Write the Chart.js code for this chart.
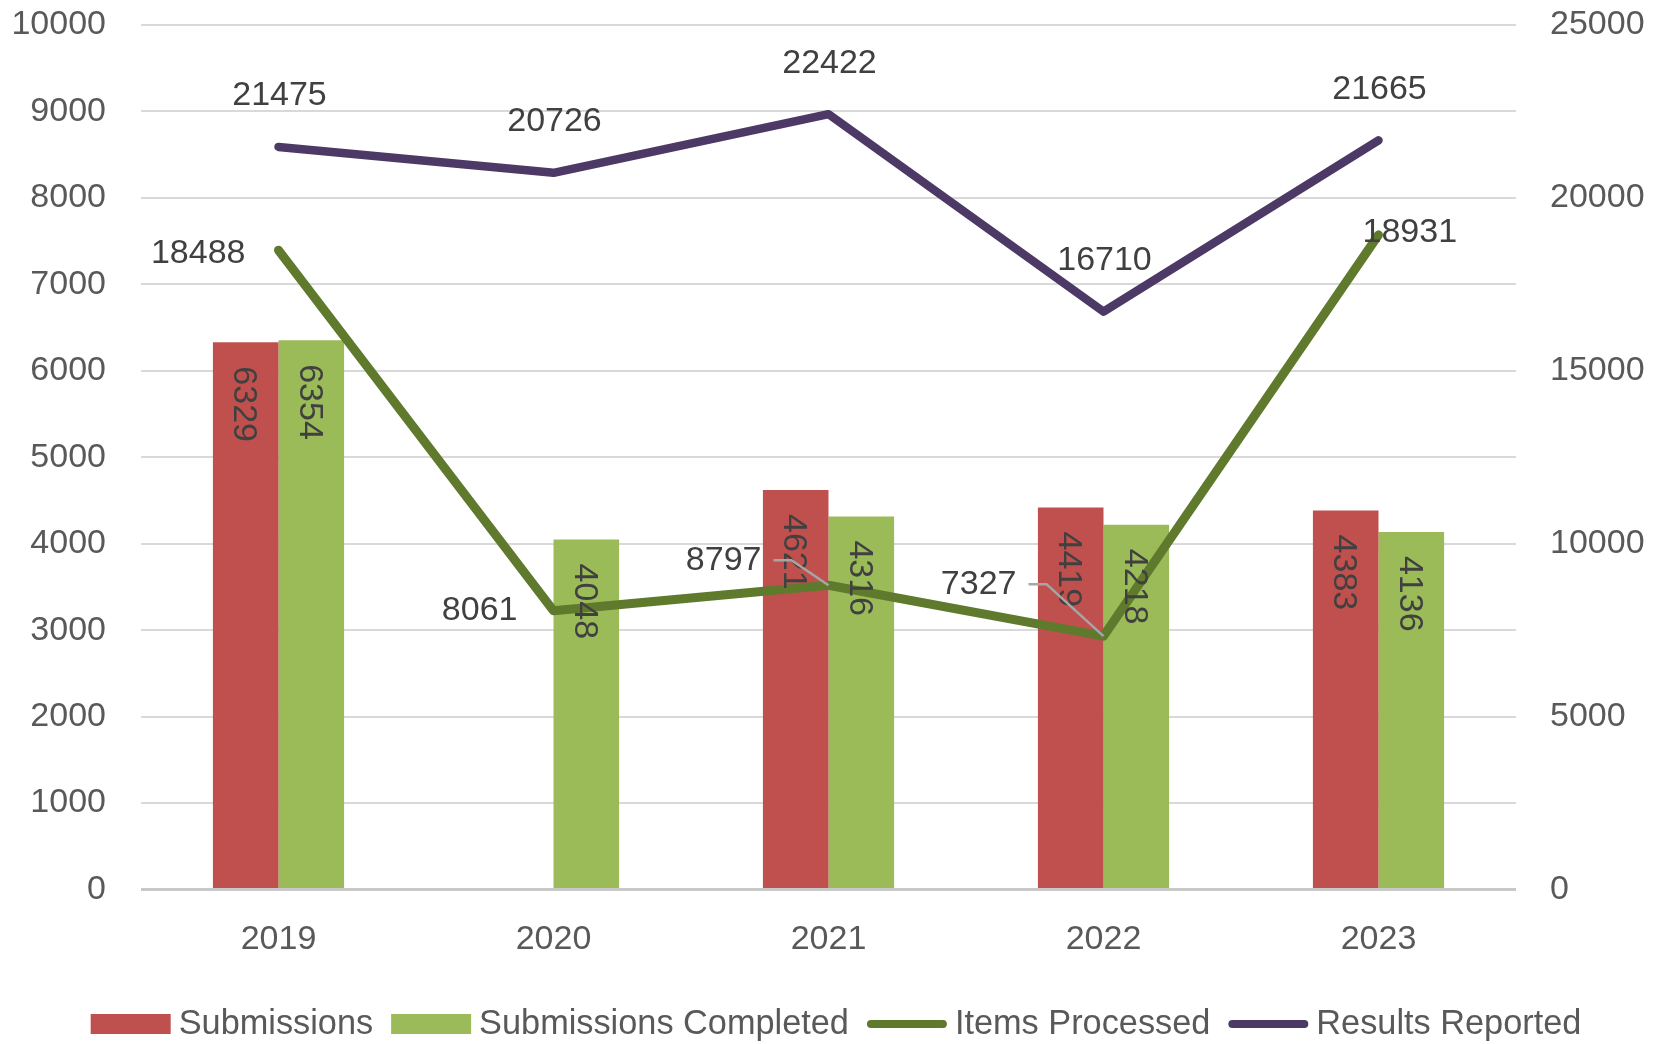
<!DOCTYPE html>
<html>
<head>
<meta charset="utf-8">
<script src="https://cdn.jsdelivr.net/npm/chart.js@4.4.1/dist/chart.umd.min.js"></script>
<style>
html,body{margin:0;padding:0;background:#ffffff;}
#wrap{width:1662px;height:1044px;}
canvas{display:block;}
</style>
</head>
<body>
<div id="wrap"><canvas id="c" width="1662" height="1044"></canvas></div>
<script>
// ---- data ----
const categories = ['2019', '2020', '2021', '2022', '2023'];
const submissions = [6329, null, 4621, 4419, 4383];
const submissionsCompleted = [6354, 4048, 4316, 4218, 4136];
const itemsProcessed = [18488, 8061, 8797, 7327, 18931];
const resultsReported = [21475, 20726, 22422, 16710, 21665];
const leftTickValues = [0, 1000, 2000, 3000, 4000, 5000, 6000, 7000, 8000, 9000, 10000];
const rightTickValues = [0, 5000, 10000, 15000, 20000, 25000];
const seriesNames = ['Submissions', 'Submissions Completed', 'Items Processed', 'Results Reported'];

// ---- style ----
const RED = '#C0504D';
const GREEN = '#9BBB59';
const OLIVE = '#5F7A2C';
const PURPLE = '#4D3965';
const FONT = '"Liberation Sans", Arial, sans-serif';
const FS = 34;

// label placement for Items Processed (offsets from point, px)
const itemsLabelPlacement = [
  {align: 'right', dx: -33, dy: 3, leader: false},
  {align: 'right', dx: -36, dy: 0, leader: false},
  {align: 'right', dx: -67, dy: -25, leader: true},
  {align: 'right', dx: -87, dy: -52, leader: true},
  {align: 'left', dx: -16, dy: -2, leader: false}
];
const resultsLabelDy = -51;

const valueLabels = {
  id: 'valueLabels',
  afterDatasetsDraw(chart) {
    const ctx = chart.ctx;
    ctx.save();
    ctx.font = FS + 'px ' + FONT;
    ctx.fillStyle = '#404040';
    // bar labels, rotated, inside end
    [0, 1].forEach(di => {
      const meta = chart.getDatasetMeta(di);
      const vals = chart.data.datasets[di].data;
      meta.data.forEach((el, i) => {
        const v = vals[i];
        if (v === null || v === undefined) return;
        ctx.save();
        ctx.translate(el.x - 2, el.y + 24);
        ctx.rotate(Math.PI / 2);
        ctx.textAlign = 'left';
        ctx.textBaseline = 'middle';
        ctx.fillText(String(v), 0, 0);
        ctx.restore();
      });
    });
    // Items processed labels
    const m2 = chart.getDatasetMeta(2);
    m2.data.forEach((pt, i) => {
      const p = itemsLabelPlacement[i];
      const lx = pt.x + p.dx, ly = pt.y + p.dy;
      ctx.textAlign = p.align;
      ctx.textBaseline = 'middle';
      ctx.fillText(String(itemsProcessed[i]), lx, ly);
      if (p.leader) {
        ctx.save();
        ctx.strokeStyle = '#A6A6A6';
        ctx.lineWidth = 2.5;
        ctx.beginPath();
        ctx.moveTo(lx + 12, ly);
        ctx.lineTo(lx + 30, ly);
        ctx.lineTo(pt.x, pt.y);
        ctx.stroke();
        ctx.restore();
      }
    });
    // Results reported labels
    const m3 = chart.getDatasetMeta(3);
    m3.data.forEach((pt, i) => {
      ctx.textAlign = 'center';
      ctx.textBaseline = 'middle';
      ctx.fillText(String(resultsReported[i]), pt.x + 1, pt.y + resultsLabelDy);
    });
    ctx.restore();
  }
};

const customLegend = {
  id: 'customLegend',
  afterDraw(chart) {
    const ctx = chart.ctx;
    const ds = chart.data.datasets;
    ctx.save();
    ctx.font = '34.3px ' + FONT;
    ctx.textBaseline = 'middle';
    ctx.textAlign = 'left';
    const boxW = 80, gapText = 8, gapItem = 18;
    const widths = ds.map(d => boxW + gapText + ctx.measureText(d.label).width);
    const total = widths.reduce((a, b) => a + b, 0) + gapItem * (ds.length - 1);
    let x = 836 - total / 2;
    const cy = 1024;
    ds.forEach((d, i) => {
      if (d.type === 'line') {
        ctx.strokeStyle = d.borderColor;
        ctx.lineWidth = 8;
        ctx.lineCap = 'round';
        ctx.beginPath();
        ctx.moveTo(x + 4, cy);
        ctx.lineTo(x + boxW - 4, cy);
        ctx.stroke();
      } else {
        ctx.fillStyle = d.backgroundColor;
        ctx.fillRect(x, cy - 10, boxW, 20);
      }
      ctx.fillStyle = '#595959';
      ctx.fillText(d.label, x + boxW + gapText, cy + 1);
      x += widths[i] + gapItem;
    });
    ctx.restore();
  }
};

const plainTick = v => String(v);

new Chart(document.getElementById('c'), {
  data: {
    labels: categories,
    datasets: [
      {type: 'bar', label: seriesNames[0], data: submissions, backgroundColor: RED, yAxisID: 'y', order: 2,
       barPercentage: 1.0, categoryPercentage: 0.477},
      {type: 'bar', label: seriesNames[1], data: submissionsCompleted, backgroundColor: GREEN, yAxisID: 'y', order: 2,
       barPercentage: 1.0, categoryPercentage: 0.477},
      {type: 'line', label: seriesNames[2], data: itemsProcessed, borderColor: OLIVE, backgroundColor: OLIVE,
       borderWidth: 9, pointRadius: 0, tension: 0, yAxisID: 'y1', order: 1,
       borderCapStyle: 'round', borderJoinStyle: 'round'},
      {type: 'line', label: seriesNames[3], data: resultsReported, borderColor: PURPLE, backgroundColor: PURPLE,
       borderWidth: 8.5, pointRadius: 0, tension: 0, yAxisID: 'y1', order: 1,
       borderCapStyle: 'round', borderJoinStyle: 'round'}
    ]
  },
  options: {
    responsive: false,
    animation: false,
    devicePixelRatio: 1,
    layout: {padding: {top: 25, left: 0, right: 0, bottom: 0}},
    plugins: {
      legend: {display: false},
      tooltip: {enabled: false}
    },
    scales: {
      x: {
        grid: {display: false, drawTicks: false},
        border: {display: false},
        ticks: {font: {family: FONT, size: FS}, color: '#595959', padding: 30},
        afterFit(scale) { scale.height = 154.5; }
      },
      y: {
        position: 'left',
        min: 0, max: 10000,
        afterBuildTicks(scale) { scale.ticks = leftTickValues.map(v => ({value: v})); },
        grid: {
          color: ctx => ctx.tick && ctx.tick.value === 0 ? '#C8C8C8' : '#D9D9D9',
          lineWidth: ctx => ctx.tick && ctx.tick.value === 0 ? 3 : 2,
          drawTicks: false
        },
        border: {display: false},
        ticks: {font: {family: FONT, size: FS}, color: '#595959', padding: 35, callback: plainTick},
        afterFit(scale) { scale.width = 141; scale.paddingTop = 0; scale.paddingBottom = 0; }
      },
      y1: {
        position: 'right',
        min: 0, max: 25000,
        afterBuildTicks(scale) { scale.ticks = rightTickValues.map(v => ({value: v})); },
        grid: {display: false, drawTicks: false},
        border: {display: false},
        ticks: {font: {family: FONT, size: FS}, color: '#595959', padding: 34, callback: plainTick},
        afterFit(scale) { scale.width = 146; scale.paddingTop = 0; scale.paddingBottom = 0; }
      }
    }
  },
  plugins: [valueLabels, customLegend]
});
</script>
</body>
</html>
